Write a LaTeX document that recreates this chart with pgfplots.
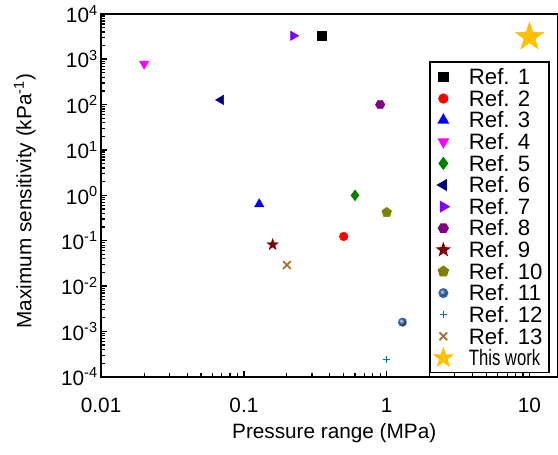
\documentclass[border=0pt]{standalone}
\usepackage{pgfplots}
\pgfplotsset{compat=1.18}
\usepackage{fontspec}
\setmainfont{Liberation Sans}
\usepackage{graphicx}

\definecolor{cmagenta}{RGB}{255,0,255}
\definecolor{cgreen}{RGB}{0,128,0}
\definecolor{cnavy}{RGB}{0,0,128}
\definecolor{cviolet}{RGB}{128,0,255}
\definecolor{cpurple}{RGB}{128,0,128}
\definecolor{cdarkred}{RGB}{128,0,0}
\definecolor{colive}{RGB}{128,128,0}
\definecolor{csteel}{RGB}{60,105,170}
\definecolor{cteal}{RGB}{0,128,128}
\definecolor{cbrown}{RGB}{170,110,40}
\definecolor{cgold}{RGB}{255,192,0}

\pgfdeclareplotmark{fstar}{%
  \pgfpathmoveto{\pgfpointpolar{90}{\pgfplotmarksize}}%
  \pgfpathlineto{\pgfpointpolar{126}{0.40\pgfplotmarksize}}%
  \pgfpathlineto{\pgfpointpolar{162}{\pgfplotmarksize}}%
  \pgfpathlineto{\pgfpointpolar{198}{0.40\pgfplotmarksize}}%
  \pgfpathlineto{\pgfpointpolar{234}{\pgfplotmarksize}}%
  \pgfpathlineto{\pgfpointpolar{270}{0.40\pgfplotmarksize}}%
  \pgfpathlineto{\pgfpointpolar{306}{\pgfplotmarksize}}%
  \pgfpathlineto{\pgfpointpolar{342}{0.40\pgfplotmarksize}}%
  \pgfpathlineto{\pgfpointpolar{18}{\pgfplotmarksize}}%
  \pgfpathlineto{\pgfpointpolar{54}{0.40\pgfplotmarksize}}%
  \pgfpathclose
  \pgfusepathqfillstroke}
\pgfdeclareplotmark{hexagon*}{%
  \pgfpathmoveto{\pgfpointpolar{0}{\pgfplotmarksize}}%
  \pgfpathlineto{\pgfpointpolar{60}{\pgfplotmarksize}}%
  \pgfpathlineto{\pgfpointpolar{120}{\pgfplotmarksize}}%
  \pgfpathlineto{\pgfpointpolar{180}{\pgfplotmarksize}}%
  \pgfpathlineto{\pgfpointpolar{240}{\pgfplotmarksize}}%
  \pgfpathlineto{\pgfpointpolar{300}{\pgfplotmarksize}}%
  \pgfpathclose
  \pgfusepathqfillstroke}

\begin{document}
\begin{tikzpicture}
\begin{axis}[
  scale only axis, width=460bp, height=366bp,
  xmode=log, ymode=log,
  xmin=0.01, xmax=15.65, ymin=1e-4, ymax=1e4,
  axis line style={line width=1.5bp, black},
  xtick pos=bottom, ytick pos=left,
  tick align=inside,
  tickwidth=6bp, subtickwidth=3.5bp,
  every tick/.style={black, line width=1.2bp},
  xtick={0.01,0.1,1,10}, xticklabels={0.01,0.1,1,10},
  ytick={1e-4,1e-3,1e-2,1e-1,1,1e1,1e2,1e3,1e4},
  yticklabels={10\textsuperscript{-4},10\textsuperscript{-3},10\textsuperscript{-2},10\textsuperscript{-1},10\textsuperscript{0},10\textsuperscript{1},10\textsuperscript{2},10\textsuperscript{3},10\textsuperscript{4}},
  tick label style={font=\fontsize{21}{25}\selectfont, black},
  xticklabel style={yshift=-18bp},
  label style={font=\fontsize{21}{25}\selectfont, black},
  xlabel={Pressure range (MPa)},
  xlabel style={at={(axis description cs:0.511,0)}, anchor=center, yshift=-57bp},
  ylabel={Maximum sensitivity (kPa\textsuperscript{-1})},
  ylabel style={at={(axis description cs:-0.1674,0.484)}, anchor=center},
  clip mode=individual,
  legend cell align=left,
  legend style={at={(0.983,0.869)}, anchor=north east,
    draw=black, line width=1.5bp, inner xsep=5bp, inner ysep=4bp,
    font=\fontsize{22.5}{23}\selectfont, row sep=0pt,
    /tikz/every odd column/.append style={column sep=16bp},
    nodes={inner sep=1.2bp, text height=17.5bp, text depth=1.9bp, line width=0.4bp}},
]
% axis tick marks (inside)
\pgfplotsinvokeforeach{1e-4,1e-3,1e-2,1e-1,1,1e1,1e2,1e3,1e4}{
  \draw[black, line width=1.6bp] (axis cs:0.01,#1) -- ([xshift=6bp]axis cs:0.01,#1);}
\pgfplotsinvokeforeach{2e-4,3e-4,4e-4,5e-4,6e-4,7e-4,8e-4,9e-4,
    2e-3,3e-3,4e-3,5e-3,6e-3,7e-3,8e-3,9e-3,
    2e-2,3e-2,4e-2,5e-2,6e-2,7e-2,8e-2,9e-2,
    2e-1,3e-1,4e-1,5e-1,6e-1,7e-1,8e-1,9e-1,
    2,3,4,5,6,7,8,9,20,30,40,50,60,70,80,90,
    200,300,400,500,600,700,800,900,2000,3000,4000,5000,6000,7000,8000,9000}{
  \draw[black, line width=1bp] (axis cs:0.01,#1) -- ([xshift=3.5bp]axis cs:0.01,#1);}
\pgfplotsinvokeforeach{0.01,0.1,1,10}{
  \draw[black, line width=1.6bp] (axis cs:#1,1e-4) -- ([yshift=6bp]axis cs:#1,1e-4);}
\pgfplotsinvokeforeach{0.02,0.03,0.04,0.05,0.06,0.07,0.08,0.09,0.2,0.3,0.4,0.5,0.6,0.7,0.8,0.9,2,3,4,5,6,7,8,9}{
  \draw[black, line width=1bp] (axis cs:#1,1e-4) -- ([yshift=3.5bp]axis cs:#1,1e-4);}
\addplot[only marks, mark=square*, mark size=4.5bp, draw=black, fill=black] coordinates {(0.35,3300)};
\addlegendentry{Ref. 1}
\addplot[only marks, mark=*, mark size=4.4bp, draw=red, fill=red] coordinates {(0.50,0.124)};
\addlegendentry{Ref. 2}
\addplot[only marks, mark=triangle*, mark size=5.5bp, draw=blue, fill=blue] coordinates {(0.128,0.64)};
\addlegendentry{Ref. 3}
\addplot[only marks, mark=triangle*, mark size=5.5bp, draw=cmagenta, fill=cmagenta, mark options={rotate=180}] coordinates {(0.020,790)};
\addlegendentry{Ref. 4}
\addplot[only marks, mark=diamond*, mark size=5.5bp, draw=cgreen, fill=cgreen] coordinates {(0.60,1.0)};
\addlegendentry{Ref. 5}
\addplot[only marks, mark=triangle*, mark size=5.5bp, draw=cnavy, fill=cnavy, mark options={rotate=90}] coordinates {(0.069,127)};
\addlegendentry{Ref. 6}
\addplot[only marks, mark=triangle*, mark size=5.5bp, draw=cviolet, fill=cviolet, mark options={rotate=-90}] coordinates {(0.222,3300)};
\addlegendentry{Ref. 7}
\addplot[only marks, mark=hexagon*, mark size=4.8bp, draw=cpurple, fill=cpurple] coordinates {(0.90,100)};
\addlegendentry{Ref. 8}
\addplot[only marks, mark=fstar, mark size=6bp, draw=cdarkred, fill=cdarkred] coordinates {(0.159,0.082)};
\addlegendentry{Ref. 9}
\addplot[only marks, mark=pentagon*, mark size=5.2bp, draw=colive, fill=colive] coordinates {(1.0,0.42)};
\addlegendentry{Ref. 10}
\addplot[only marks, mark=ball, mark size=4.3bp, ball color=csteel, draw=csteel] coordinates {(1.29,0.0016)};
\addlegendentry{Ref. 11}
\addplot[only marks, mark=+, mark size=3.5bp, draw=cteal, line width=1.2bp] coordinates {(1.0,0.00024)};
\addlegendentry{Ref. 12}
\addplot[only marks, mark=x, mark size=5.5bp, draw=cbrown, line width=1.8bp] coordinates {(0.20,0.029)};
\addlegendentry{Ref. 13}
\addplot[only marks, mark=fstar, mark size=15bp, draw=cgold, fill=cgold, legend image post style={mark size=9bp}] coordinates {(10,3100)};
\addlegendentry{\scalebox{0.75}[1]{This work}}
\end{axis}
\path[use as bounding box] (current axis.south west) ++(-102bp,-78bp) rectangle ([shift={(-4bp,14bp)}]current axis.north east);
\end{tikzpicture}
\end{document}
